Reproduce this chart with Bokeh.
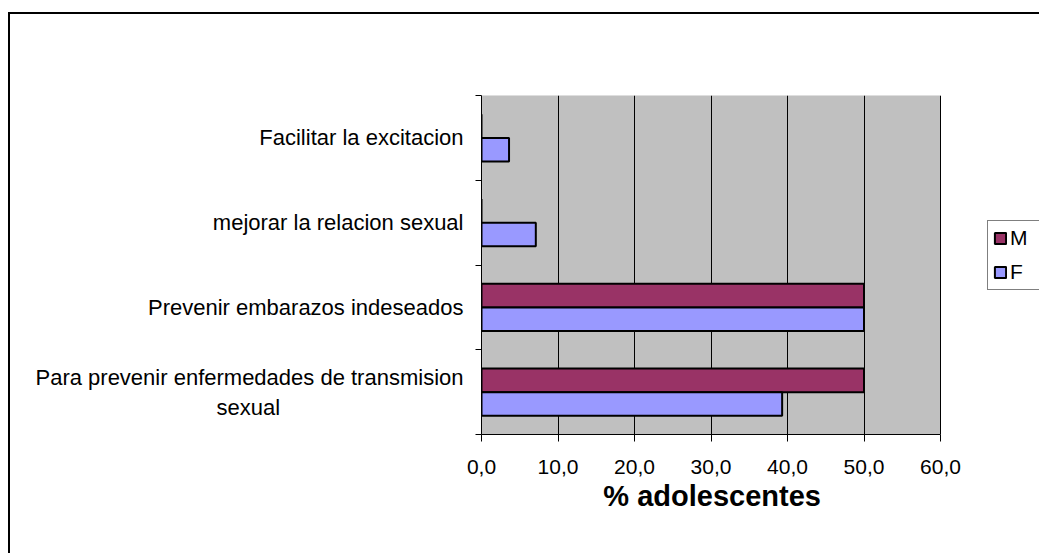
from bokeh.plotting import figure
from bokeh.models import (ColumnDataSource, Range1d, LinearAxis, BoxAnnotation,
                          FixedTicker, Legend, LegendItem)
from bokeh.embed import file_html
from bokeh.resources import INLINE

# ---- data ----
categories = [
    "Para prevenir enfermedades de transmision\nsexual",
    "Prevenir embarazos indeseados",
    "mejorar la relacion sexual",
    "Facilitar la excitacion",
]
m_values = [50.0, 50.0, 0.0, 0.0]
f_values = [39.3, 50.0, 7.1, 3.6]
series_names = ["M", "F"]
series_colors = ["#993366", "#9999FF"]
x_ticks = [0, 10, 20, 30, 40, 50, 60]
x_tick_labels = ["0,0", "10,0", "20,0", "30,0", "40,0", "50,0", "60,0"]
x_label = "% adolescentes"

FONT = "Liberation Sans"
n = len(categories)
bh = 0.28
centers = [i + 0.5 for i in range(n)]

# layout (pixels)
W, H = 1039, 553
AREA_L, AREA_R, AREA_T, AREA_B = 481, 940, 95, 434   # gray plot area
# the frame extends to the right canvas edge so the legend can sit there
x_end = x_ticks[-1] * (W - AREA_L) / (AREA_R - AREA_L)
XLABEL_PX = 29
NBSP_EM = 0.278

# approximate Arial/Liberation Sans advance widths (em) to center wrapped lines
_W = {" ": .278, "\u00a0": .278, "a": .556, "b": .556, "c": .5, "d": .556, "e": .556, "f": .278,
      "g": .556, "h": .556, "i": .222, "j": .222, "k": .5, "l": .222, "m": .833, "n": .556,
      "o": .556, "p": .556, "q": .556, "r": .333, "s": .5, "t": .278, "u": .556, "v": .5,
      "w": .722, "x": .5, "y": .5, "z": .5, "P": .667, "F": .611}


def centered(label):
    lines = label.split("\n")
    if len(lines) == 1:
        return label
    widths = [sum(_W.get(ch, .556) for ch in ln) for ln in lines]
    wmax = max(widths)
    out = []
    for ln, w in zip(lines, widths):
        pad = int(round((wmax - w) / 2 / NBSP_EM))
        out.append(ln + "\u00a0" * pad)
    return "\n".join(out)


# axis label is centred on the (wider) frame: pad it so it centres under the plot area
frame_center = (AREA_L + W) / 2
area_center = (AREA_L + AREA_R) / 2
n_pad = int(round(2 * (frame_center - area_center) / (NBSP_EM * XLABEL_PX)))
x_label_shown = x_label + "\u00a0" * n_pad

source = ColumnDataSource(dict(cat=categories, M=m_values, F=f_values,
                               yM=[c + bh / 2 for c in centers],
                               yF=[c - bh / 2 for c in centers]))

p = figure(width=W, height=H,
           y_range=Range1d(0, n),
           x_range=Range1d(0, x_end),
           output_backend="svg", toolbar_location=None,
           y_axis_location=None,
           min_border_left=AREA_L, min_border_right=0,
           min_border_top=AREA_T, min_border_bottom=H - AREA_B)

p.background_fill_color = "white"
p.border_fill_alpha = 0
p.outline_line_color = None
# outer chart border (top and left edges visible, like the Excel chart area)
p.styles = {
    "background-color": "white",
    "background-image": "linear-gradient(#000, #000), linear-gradient(#000, #000)",
    "background-position": "8px 12px, 8px 12px",
    "background-size": "2000px 2px, 2px 2000px",
    "background-repeat": "no-repeat",
}

# gray plot area
area = BoxAnnotation(left=x_ticks[0], right=x_ticks[-1], bottom=0, top=n,
                     fill_color="#C0C0C0", fill_alpha=1,
                     line_color="#808080", line_width=1, level="image")
p.add_layout(area)

# bars
rM = p.hbar(y="yM", right="M", left=0, height=bh,
            source=source, fill_color=series_colors[0], line_color="black", line_width=2)
rF = p.hbar(y="yF", right="F", left=0, height=bh,
            source=source, fill_color=series_colors[1], line_color="black", line_width=2)

# x axis
xa = p.xaxis[0]
xa.ticker = FixedTicker(ticks=x_ticks, minor_ticks=[])
xa.bounds = (x_ticks[0], x_ticks[-1])
xa.major_label_overrides = {t: l for t, l in zip(x_ticks, x_tick_labels)}
xa.major_tick_out = 7
xa.major_tick_in = 0
xa.minor_tick_line_color = None
xa.axis_line_color = "black"
xa.major_tick_line_color = "black"
xa.major_label_text_font = FONT
xa.major_label_text_font_size = "21px"
xa.major_label_text_color = "black"
xa.major_label_standoff = 18
xa.axis_label = x_label_shown
xa.axis_label_text_font = FONT
xa.axis_label_text_font_size = f"{XLABEL_PX}px"
xa.axis_label_text_font_style = "bold"
xa.axis_label_text_color = "black"
xa.axis_label_standoff = 3

p.xgrid.ticker = FixedTicker(ticks=x_ticks)
p.xgrid.grid_line_color = "black"
p.xgrid.grid_line_width = 1
p.xgrid.level = "underlay"
p.ygrid.visible = False

# y axes: boundary ticks + category labels
bound_axis = LinearAxis(ticker=FixedTicker(ticks=list(range(n + 1)), minor_ticks=[]),
                        major_tick_out=6, major_tick_in=0,
                        minor_tick_line_color=None,
                        major_label_overrides={i: "" for i in range(n + 1)},
                        major_label_standoff=0,
                        major_label_text_font_size="1px",
                        axis_line_color="black", major_tick_line_color="black")
p.add_layout(bound_axis, "left")

cat_axis = LinearAxis(ticker=FixedTicker(ticks=centers, minor_ticks=[]),
                      major_label_overrides={c: centered(lab) for c, lab in zip(centers, categories)},
                      major_tick_line_color=None, minor_tick_line_color=None,
                      axis_line_color=None,
                      major_tick_out=0, major_tick_in=0,
                      major_label_standoff=12,
                      major_label_text_font=FONT,
                      major_label_text_font_size="22px",
                      major_label_text_color="black")
p.add_layout(cat_axis, "left")

# legend (inside the extended frame, right of the plot area)
legend = Legend(items=[LegendItem(label=series_names[0], renderers=[rM]),
                       LegendItem(label=series_names[1], renderers=[rF])],
                location=(506, 144),
                glyph_width=14, glyph_height=14,
                label_height=24, label_width=40, spacing=10,
                padding=5, margin=0, label_standoff=3,
                label_text_font=FONT, label_text_font_size="21px",
                label_text_color="black",
                border_line_color="black", border_line_width=1,
                background_fill_color="white", background_fill_alpha=1)
p.add_layout(legend)

open("out.html", "w").write(file_html(p, INLINE))
